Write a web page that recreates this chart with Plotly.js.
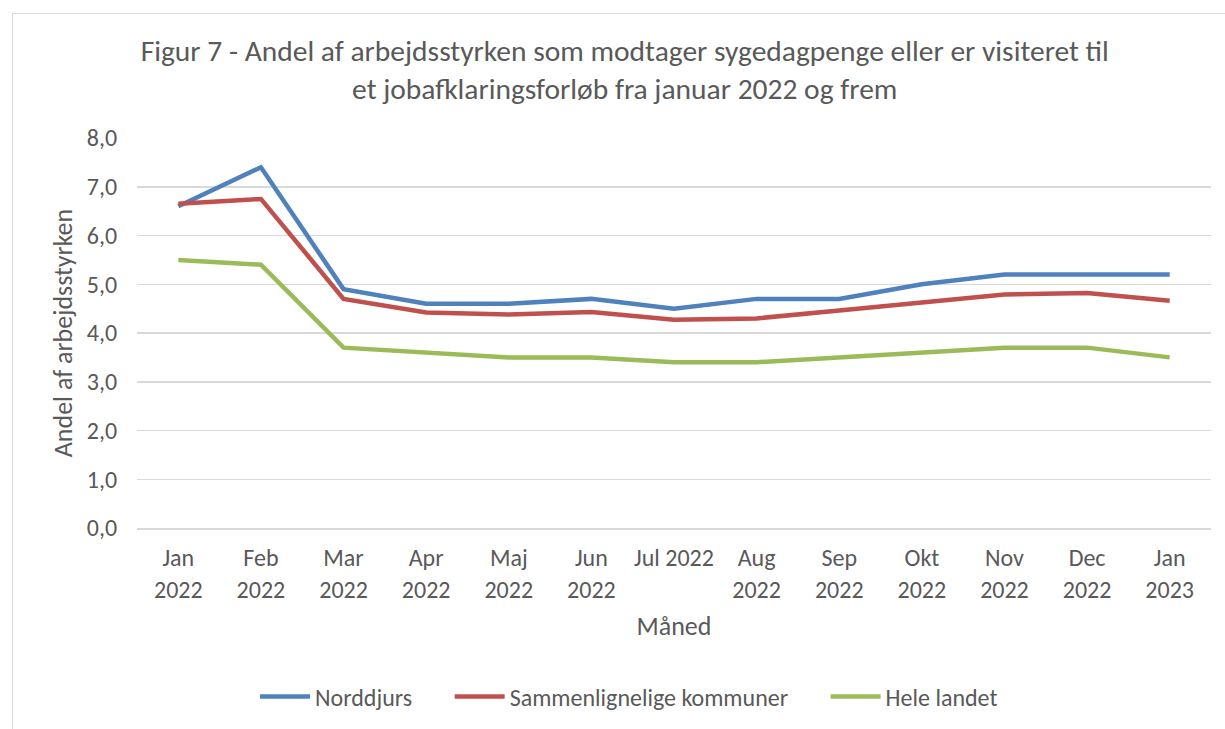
<!DOCTYPE html>
<html><head><meta charset="utf-8">
<script src="https://cdn.plot.ly/plotly-3.0.1.min.js"></script>
<style>body{margin:0;background:#fff}#wrap{position:relative;width:1225px;height:729px}#frame{position:absolute;left:12px;top:13px;width:1225px;height:729px;border:1px solid #d9d9d9;pointer-events:none}</style>
</head><body><div id="wrap"><div id="chart" style="width:1225px;height:729px"></div><div id="frame"></div></div>
<script>
const months = ['Jan<br>2022','Feb<br>2022','Mar<br>2022','Apr<br>2022','Maj<br>2022','Jun<br>2022','Jul 2022','Aug<br>2022','Sep<br>2022','Okt<br>2022','Nov<br>2022','Dec<br>2022','Jan<br>2023'];
const norddjurs = [6.6,7.4,4.9,4.6,4.6,4.7,4.5,4.7,4.7,5.0,5.2,5.2,5.2];
const sammenlignelige = [6.65,6.75,4.7,4.42,4.38,4.43,4.27,4.3,4.46,4.63,4.79,4.82,4.66];
const heleLandet = [5.5,5.4,3.7,3.6,3.5,3.5,3.4,3.4,3.5,3.6,3.7,3.7,3.5];
const names = ['Norddjurs','Sammenlignelige kommuner','Hele landet'];
const colors = ['#4F81BD','#C0504D','#9BBB59'];
const series = [norddjurs, sammenlignelige, heleLandet];
const font = 'Calibri, Carlito, "Open Sans", "Liberation Sans", sans-serif';
const pad = '\u00a0\u00a0\u00a0\u00a0\u00a0\u00a0';
const traces = series.map((s,i)=>({x:months,y:s,name:names[i]+(i<series.length-1?pad:''),type:'scatter',mode:'lines',line:{color:colors[i],width:4.5}}));
const layout = {
  width:1225,height:729,
  margin:{l:137,r:14,t:138,b:201},
  paper_bgcolor:'#fff',plot_bgcolor:'#fff',
  separators:',.',
  font:{family:font,color:'#595959',size:24},
  title:{text:'Figur 7 - Andel af arbejdsstyrken som modtager sygedagpenge eller er visiteret til<br>et jobafklaringsforløb fra januar 2022 og frem',
    font:{size:29.5,color:'#595959'},x:0.51,xref:'container',xanchor:'center',y:1-61/729,yref:'container',yanchor:'middle'},
  xaxis:{type:'category',range:[-0.5,12.5],showgrid:false,showline:true,linecolor:'#d9d9d9',linewidth:1.5,ticks:'outside',ticklen:8,tickcolor:'rgba(0,0,0,0)',
    tickfont:{size:24,color:'#595959'},title:{text:'Måned',font:{size:26,color:'#595959'},standoff:14},fixedrange:true},
  yaxis:{range:[0,8],dtick:1,tickformat:'.1f',showgrid:true,gridcolor:'#d9d9d9',gridwidth:1.5,zeroline:false,
    tickfont:{size:24,color:'#595959'},ticks:'outside',ticklen:14,tickcolor:'rgba(0,0,0,0)',
    title:{text:'Andel af arbejdsstyrken',font:{size:26,color:'#595959'},standoff:6}},
  showlegend:true,
  legend:{orientation:'h',x:629/1225,xref:'container',xanchor:'center',y:1-697/729,yref:'container',yanchor:'middle',
    font:{size:24,color:'#595959'},itemwidth:50,tracegroupgap:0}
};
Plotly.newPlot('chart',traces,layout,{displayModeBar:false,staticPlot:true});
</script></body></html>
